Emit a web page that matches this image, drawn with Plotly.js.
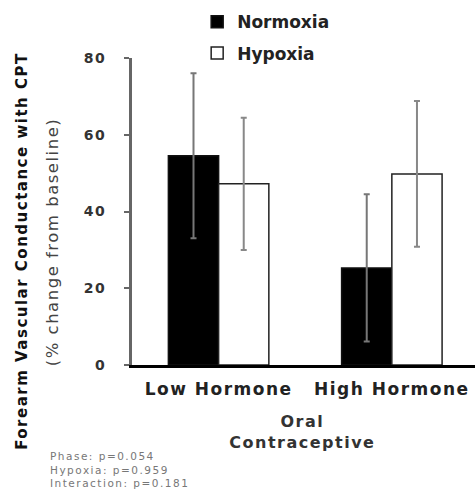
<!DOCTYPE html>
<html>
<head>
<meta charset="utf-8">
<script src="https://cdn.plot.ly/plotly-3.0.1.min.js"></script>
<style>
html,body{margin:0;padding:0;background:#fff;}
#chart{width:475px;height:490px;}
.main-svg .xtick text, .main-svg .ytick text, .main-svg .annotation text{letter-spacing:1.5px;}
</style>
</head>
<body>
<div id="chart"></div>
<script>
var categories = ["Low Hormone", "High Hormone"];
var normoxia = [54.5, 25.3];
var normoxiaErr = [21.5, 19.2];
var hypoxia = [47.2, 49.8];
var hypoxiaErr = [17.2, 19.0];
var yTicks = [0, 20, 40, 60, 80];
var statsLines = ["Phase: p=0.054", "Hypoxia: p=0.959", "Interaction: p=0.181"];

var font = "DejaVu Sans";
var traces = [
  {
    type: "bar", name: "Normoxia", x: categories, y: normoxia,
    marker: {color: "#000000", line: {color: "#111111", width: 1.5}},
    error_y: {type: "data", array: normoxiaErr, visible: true, color: "#777777", thickness: 2, width: 3},
    legendgroup: "a"
  },
  {
    type: "bar", name: "Hypoxia", x: categories, y: hypoxia,
    marker: {color: "#ffffff", line: {color: "#222222", width: 1.5}},
    error_y: {type: "data", array: hypoxiaErr, visible: true, color: "#888888", thickness: 2, width: 3},
    legendgroup: "b"
  }
];

var layout = {
  width: 475, height: 490,
  margin: {l: 132, r: 0, t: 58, b: 125},
  paper_bgcolor: "#ffffff", plot_bgcolor: "#ffffff",
  barmode: "group", bargap: 0.42, bargroupgap: 0,
  showlegend: true,
  legend: {
    x: 0.19, y: 1.175, xanchor: "left", yanchor: "top",
    font: {family: font, size: 17, color: "#222", weight: "bold"},
    tracegroupgap: 6, traceorder: "grouped", bgcolor: "rgba(0,0,0,0)"
  },
  xaxis: {
    type: "category", range: [-0.5, 1.48],
    showline: true, linecolor: "#000", linewidth: 2.5,
    showgrid: false, zeroline: false, ticks: "",
    tickfont: {family: font, size: 17, color: "#222", weight: "bold"},
    ticklabelstandoff: 7
  },
  yaxis: {
    range: [0, 80], tickvals: yTicks, ticktext: yTicks.map(String),
    showline: true, linecolor: "#666", linewidth: 3,
    ticks: "outside", ticklen: 5, tickcolor: "#666", tickwidth: 2,
    showgrid: false, zeroline: false,
    tickfont: {family: font, size: 14, color: "#333", weight: "bold"},
    ticklabelstandoff: 15
  },
  annotations: [
    {text: "Forearm Vascular Conductance with CPT", xref: "paper", yref: "paper",
     x: -0.321, y: 0.374, xanchor: "center", yanchor: "middle", textangle: -90, showarrow: false,
     font: {family: font, size: 15, color: "#111", weight: "bold"}},
    {text: "(% change from baseline)", xref: "paper", yref: "paper",
     x: -0.233, y: 0.4, xanchor: "center", yanchor: "middle", textangle: -90, showarrow: false,
     font: {family: font, size: 16.5, color: "#444"}},
    {text: "Oral<br>Contraceptive", xref: "paper", yref: "paper",
     x: 0.496, y: -0.145, xanchor: "center", yanchor: "top", showarrow: false,
     font: {family: font, size: 16, color: "#333", weight: "bold"}},
    {text: statsLines.join("<br>"), xref: "paper", yref: "paper",
     x: -0.246, y: -0.27, xanchor: "left", yanchor: "top", align: "left", showarrow: false,
     font: {family: font, size: 10.5, color: "#777"}}
  ]
};

Plotly.newPlot("chart", traces, layout, {displayModeBar: false, staticPlot: true});
</script>
</body>
</html>
